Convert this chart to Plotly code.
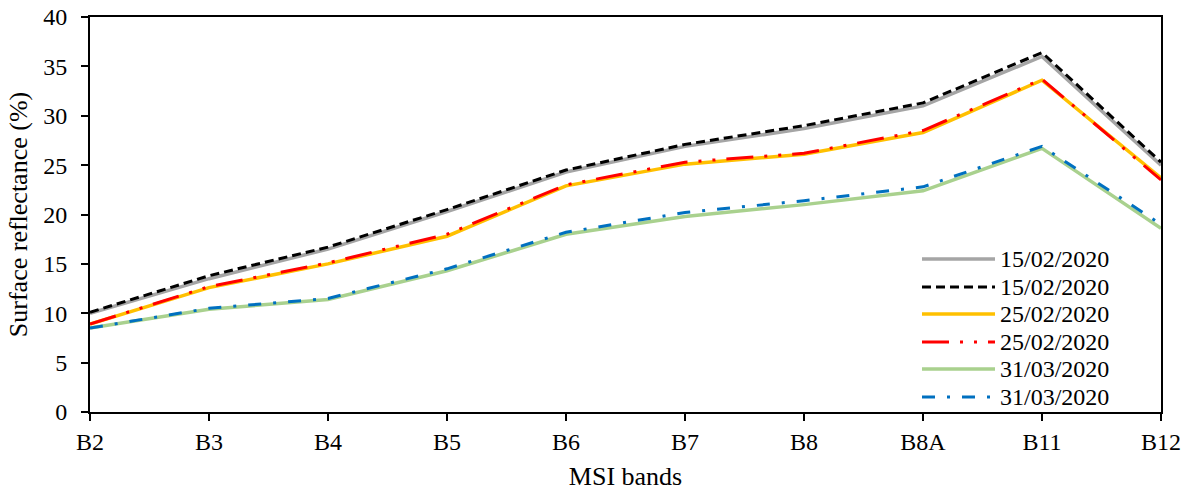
import plotly.graph_objects as go

bands = ["B2", "B3", "B4", "B5", "B6", "B7", "B8", "B8A", "B11", "B12"]

gray_1502 = [10.0, 13.5, 16.5, 20.3, 24.3, 26.9, 28.7, 31.0, 36.0, 25.0]
black_1502 = [10.1, 13.8, 16.7, 20.5, 24.5, 27.1, 29.0, 31.3, 36.4, 25.3]
orange_2502 = [8.9, 12.6, 15.0, 17.8, 22.9, 25.1, 26.1, 28.3, 33.6, 23.7]
red_2502 = [8.9, 12.7, 15.1, 18.0, 23.0, 25.3, 26.2, 28.5, 33.7, 23.5]
green_3103 = [8.5, 10.4, 11.4, 14.3, 18.0, 19.8, 21.0, 22.4, 26.7, 18.6]
blue_3103 = [8.5, 10.5, 11.5, 14.5, 18.2, 20.2, 21.4, 22.8, 26.9, 19.0]

labels = ["15/02/2020", "15/02/2020", "25/02/2020", "25/02/2020", "31/03/2020", "31/03/2020"]

series = [
    (gray_1502, "#A5A5A5", "solid", 3.5),
    (black_1502, "#000000", "9px,5px", 3),
    (orange_2502, "#FFC000", "solid", 3.5),
    (red_2502, "#FF0000", "27px,11px,3px,11px,3px,11px", 3),
    (green_3103, "#A9D18E", "solid", 3.5),
    (blue_3103, "#0070C0", "13px,12px,3px,12px", 3),
]

xpos = list(range(len(bands)))
font_family = "Liberation Serif"

fig = go.Figure()
for (vals, color, dash, width), name in zip(series, labels):
    fig.add_trace(go.Scatter(
        x=xpos, y=vals, mode="lines", name=name, showlegend=False,
        line=dict(color=color, dash=dash, width=width),
    ))

# Compact legend box drawn in paper coordinates (tighter row spacing than the built-in legend)
plot_l, plot_w, plot_b, plot_h = 90, 1071, 412, 395
row_y_px = [259, 287, 314, 342, 369, 397]
line_x0_px, line_x1_px, text_x_px = 922, 995, 998
for (vals, color, dash, width), name, ypx in zip(series, labels, row_y_px):
    yp = (plot_b - ypx) / plot_h
    fig.add_shape(
        type="line", xref="paper", yref="paper",
        x0=(line_x0_px - plot_l) / plot_w, x1=(line_x1_px - plot_l) / plot_w,
        y0=yp, y1=yp,
        line=dict(color=color, dash=dash, width=width),
    )
    fig.add_annotation(
        xref="paper", yref="paper", x=(text_x_px - plot_l) / plot_w, y=yp,
        text=name, showarrow=False, xanchor="left", yanchor="middle",
        font=dict(family=font_family, size=24, color="#000000"),
    )

fig.update_layout(
    width=1193, height=491,
    margin=dict(l=90, r=32, t=17, b=79),
    paper_bgcolor="white", plot_bgcolor="white",
    font=dict(family=font_family, size=24, color="#000000"),
    xaxis=dict(
        range=[0, len(bands) - 1],
        tickmode="array", tickvals=xpos, ticktext=bands,
        showline=True, linecolor="#000000", linewidth=2, mirror=True,
        ticks="outside", ticklen=7, tickwidth=2, tickcolor="#000000",
        showgrid=False, zeroline=False, automargin=False,
        title=dict(text="MSI bands", font=dict(size=26), standoff=15),
        tickfont=dict(size=24),
    ),
    yaxis=dict(
        range=[0, 40], dtick=5,
        showline=True, linecolor="#000000", linewidth=2, mirror=True,
        ticks="outside", ticklen=7, tickwidth=2, tickcolor="#000000",
        showgrid=False, zeroline=False, automargin=False,
        ticklabelstandoff=9,
        title=dict(text="Surface reflectance (%)", font=dict(size=26), standoff=8),
        tickfont=dict(size=24),
    ),
)

fig.write_html("out.html")
